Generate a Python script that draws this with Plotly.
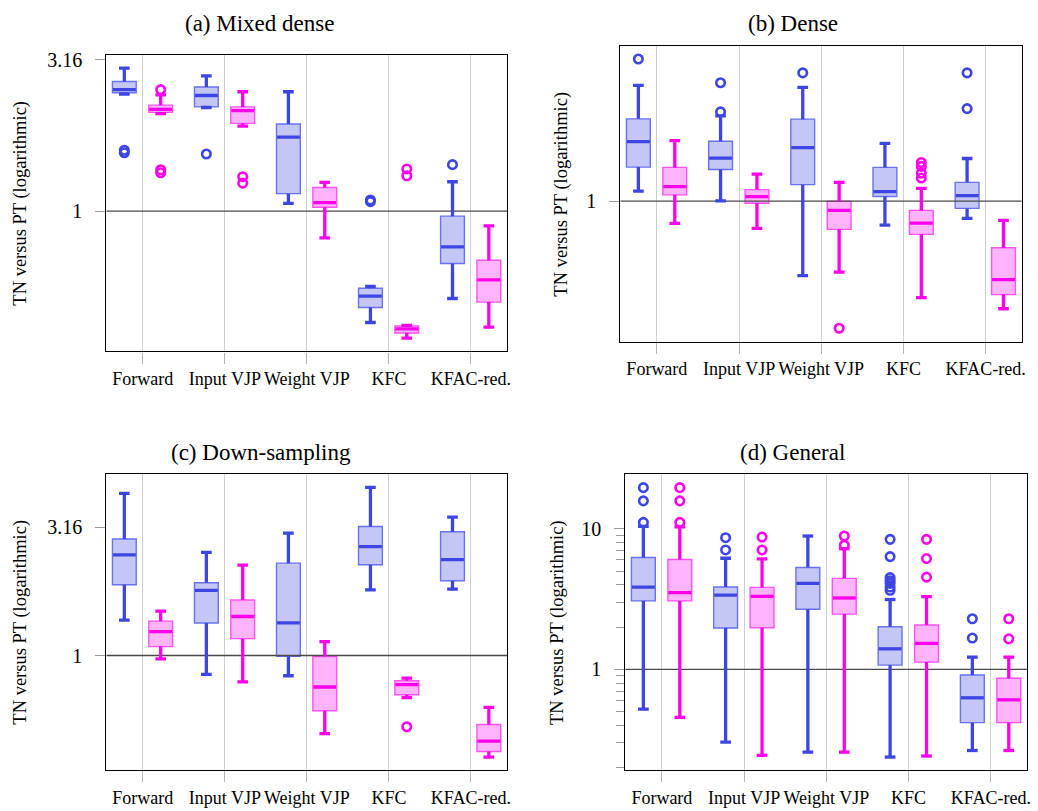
import plotly.graph_objects as go

W, H = 1038, 811

CATEGORIES = ["Forward", "Input VJP", "Weight VJP", "KFC", "KFAC-red."]

# Box statistics (lower whisker, Q1, median, Q3, upper whisker, outliers),
# one entry per category, for the two series of each panel.
MIXED_BLUE = dict(
    lo=[2.435, 2.20, 1.062, 0.429, 0.515],
    q1=[2.46, 2.21, 1.143, 0.481, 0.672],
    med=[2.52, 2.41, 1.757, 0.524, 0.762],
    q3=[2.68, 2.57, 1.94, 0.557, 0.963],
    hi=[2.97, 2.80, 2.48, 0.565, 1.251],
    out=[[1.59, 1.56], [1.545], [], [1.089, 1.076], [1.425]],
)
MIXED_PINK = dict(
    lo=[2.10, 1.91, 0.816, 0.381, 0.414],
    q1=[2.12, 1.95, 1.031, 0.396, 0.501],
    med=[2.17, 2.15, 1.067, 0.409, 0.593],
    q3=[2.24, 2.21, 1.198, 0.418, 0.689],
    hi=[2.42, 2.48, 1.245, 0.420, 0.895],
    out=[[2.52, 1.37, 1.34], [1.30, 1.238], [], [1.379, 1.309], []],
)

DENSE_BLUE = dict(
    lo=[1.072, 1.002, 0.596, 0.847, 0.887],
    q1=[1.268, 1.247, 1.122, 1.033, 0.951],
    med=[1.514, 1.349, 1.452, 1.069, 1.04],
    q3=[1.774, 1.517, 1.770, 1.265, 1.14],
    hi=[2.239, 1.811, 2.208, 1.496, 1.346],
    out=[[2.69], [2.28, 1.862], [2.443], [], [2.443, 1.905]],
)
DENSE_PINK = dict(
    lo=[0.857, 0.828, 0.610, 0.511, 0.473],
    q1=[1.045, 0.986, 0.822, 0.794, 0.522],
    med=[1.107, 1.033, 0.938, 0.859, 0.579],
    q3=[1.265, 1.084, 1.0, 0.938, 0.723],
    hi=[1.524, 1.208, 1.14, 1.094, 0.875],
    out=[[], [], [0.413], [1.309, 1.274, 1.216, 1.175], []],
)

DOWN_BLUE = dict(
    lo=[1.374, 0.844, 0.834, 1.80, 1.815],
    q1=[1.887, 1.338, 0.994, 2.255, 1.956],
    med=[2.465, 1.794, 1.341, 2.655, 2.364],
    q3=[2.842, 1.921, 2.289, 3.181, 3.034],
    hi=[4.28, 2.523, 2.998, 4.514, 3.457],
    out=[[], [], [], [], []],
)
DOWN_PINK = dict(
    lo=[0.971, 0.789, 0.496, 0.686, 0.402],
    q1=[1.083, 1.163, 0.609, 0.703, 0.423],
    med=[1.238, 1.419, 0.754, 0.770, 0.464],
    q3=[1.361, 1.646, 0.991, 0.798, 0.539],
    hi=[1.488, 2.248, 1.133, 0.817, 0.628],
    out=[[], [], [], [0.528], []],
)

GENERAL_BLUE = dict(
    lo=[0.522, 0.304, 0.258, 0.238, 0.265],
    q1=[3.07, 1.97, 2.68, 1.073, 0.418],
    med=[3.85, 3.37, 4.09, 1.40, 0.628],
    q3=[6.24, 3.85, 5.31, 2.01, 0.912],
    hi=[10.4, 6.17, 8.88, 3.14, 1.222],
    out=[[19.6, 15.8, 11.1], [8.64, 7.07], [],
         [8.41, 6.34, 4.49, 4.27, 4.09, 3.85, 3.65], [2.29, 1.67]],
)
GENERAL_PINK = dict(
    lo=[0.456, 0.245, 0.258, 0.242, 0.265],
    q1=[3.07, 1.98, 2.47, 1.127, 0.418],
    med=[3.52, 3.31, 3.22, 1.53, 0.608],
    q3=[6.04, 3.83, 4.44, 2.07, 0.864],
    hi=[10.3, 6.11, 7.22, 3.29, 1.222],
    out=[[19.6, 15.8, 11.1], [8.73, 7.07], [8.88, 7.63], [8.41, 6.14, 4.53], [2.29, 1.65]],
)

FONT = "Liberation Serif"

BLUE = dict(dark="#3d46e3", edge="#6a72ee", fill="#c4c7f5", offset=-0.225)
PINK = dict(dark="#ff00ea", edge="#ff52f0", fill="#ffb4fb", offset=0.218)

BOX_W = 0.29
CAP_W = 0.13

# Panel layout in pixels: plot-area box (left, top, right, bottom), title centre, y-title centre
PANELS = [
    dict(title="(a) Mixed dense", blue=MIXED_BLUE, pink=MIXED_PINK,
         yrange=[-0.463, 0.516], tickvals=[1, 3.16], ticktext=["1", "3.16"], minor=None,
         box=(106.7, 49.3, 509.0, 348.0), title_xy=(261, 18), ytitle_xy=(20.5, 198.7)),
    dict(title="(b) Dense", blue=DENSE_BLUE, pink=DENSE_PINK,
         yrange=[-0.425, 0.47], tickvals=[1], ticktext=["1"], minor=None,
         box=(622.7, 40.0, 1025.7, 338.3), title_xy=(796, 18), ytitle_xy=(564, 189.2)),
    dict(title="(c) Down-sampling", blue=DOWN_BLUE, pink=DOWN_PINK,
         yrange=[-0.447, 0.706], tickvals=[1, 3.16], ticktext=["1", "3.16"], minor=None,
         box=(106.7, 471.7, 509.0, 770.0), title_xy=(262.5, 450), ytitle_xy=(20.5, 620.8)),
    dict(title="(d) General", blue=GENERAL_BLUE, pink=GENERAL_PINK,
         yrange=[-0.7176, 1.388], tickvals=[1, 10], ticktext=["1", "10"],
         minor=[0.2, 0.3, 0.4, 0.5, 0.6, 0.7, 0.8, 0.9, 2, 3, 4, 5, 6, 7, 8, 9],
         box=(627.7, 471.7, 1031.0, 770.0), title_xy=(796, 450), ytitle_xy=(559, 620.8)),
]

XRANGE = [-0.445, 4.44]

fig = go.Figure()
annotations = []

for i, p in enumerate(PANELS):
    n = i + 1
    xa, ya = f"x{n}", f"y{n}"
    xname = "xaxis" if n == 1 else f"xaxis{n}"
    yname = "yaxis" if n == 1 else f"yaxis{n}"
    left, top, right, bottom = p["box"]

    # reference line at a ratio of 1
    fig.add_trace(go.Scatter(
        x=XRANGE, y=[1, 1], mode="lines", xaxis=xa, yaxis=ya,
        line=dict(color="#4a4a4a", width=1.3), showlegend=False, hoverinfo="skip"))

    for style, stats in ((BLUE, p["blue"]), (PINK, p["pink"])):
        xs = [c + style["offset"] for c in range(len(CATEGORIES))]
        fig.add_trace(go.Box(
            x=xs, q1=stats["q1"], median=stats["med"], q3=stats["q3"],
            lowerfence=stats["lo"], upperfence=stats["hi"],
            width=BOX_W, whiskerwidth=0, boxpoints=False,
            fillcolor=style["fill"], line=dict(color=style["edge"], width=1.4),
            xaxis=xa, yaxis=ya, showlegend=False, hoverinfo="skip"))

        # thick whiskers, caps and medians
        lx, ly = [], []
        for x, lo, q1, med, q3, hi in zip(xs, stats["lo"], stats["q1"], stats["med"],
                                          stats["q3"], stats["hi"]):
            lx += [x, x, None, x, x, None]
            ly += [q3, hi, None, q1, lo, None]
            lx += [x - CAP_W / 2, x + CAP_W / 2, None, x - CAP_W / 2, x + CAP_W / 2, None]
            ly += [hi, hi, None, lo, lo, None]
            lx += [x - BOX_W / 2 + 0.006, x + BOX_W / 2 - 0.006, None]
            ly += [med, med, None]
        fig.add_trace(go.Scatter(
            x=lx, y=ly, mode="lines", xaxis=xa, yaxis=ya,
            line=dict(color=style["dark"], width=3.3), showlegend=False, hoverinfo="skip"))

        ox, oy = [], []
        for x, outs in zip(xs, stats["out"]):
            for v in outs:
                ox.append(x)
                oy.append(v)
        if ox:
            fig.add_trace(go.Scatter(
                x=ox, y=oy, mode="markers", xaxis=xa, yaxis=ya,
                marker=dict(symbol="circle-open", size=8.5, color=style["dark"],
                            line=dict(width=2.6, color=style["dark"])),
                showlegend=False, hoverinfo="skip"))

    xdom = [left / W, right / W]
    ydom = [1 - bottom / H, 1 - top / H]

    fig.layout[xname] = dict(
        domain=xdom, anchor=ya, range=XRANGE, tickmode="array",
        tickvals=list(range(len(CATEGORIES))), ticktext=CATEGORIES, tickangle=0,
        showgrid=True, gridcolor="#cfcfcf", gridwidth=1.2,
        ticks="outside", ticklen=11, tickcolor="#b5b5b5", tickwidth=1.2,
        showline=True, mirror=True, linecolor="black", linewidth=1.2,
        zeroline=False, ticklabelstandoff=0,
        tickfont=dict(family=FONT, size=18, color="black"),
    )
    yax = dict(
        domain=ydom, anchor=xa, type="log", range=p["yrange"], tickmode="array",
        tickvals=p["tickvals"], ticktext=p["ticktext"], showgrid=False,
        ticks="outside", ticklen=10, tickcolor="#9a9a9a", tickwidth=1.2,
        showline=True, mirror=True, linecolor="black", linewidth=1.2,
        zeroline=False, ticklabelstandoff=9,
        tickfont=dict(family=FONT, size=20, color="black"),
    )
    if p["minor"]:
        yax["minor"] = dict(tickmode="array", tickvals=p["minor"], ticks="outside",
                            ticklen=8, tickcolor="#9a9a9a", tickwidth=1.2, showgrid=False)
    fig.layout[yname] = yax

    tx, ty = p["title_xy"]
    annotations.append(dict(
        text=p["title"], x=tx / W, y=1 - ty / H, xref="paper", yref="paper",
        xanchor="center", yanchor="middle", showarrow=False,
        font=dict(family=FONT, size=23, color="black")))
    yx, yy = p["ytitle_xy"]
    annotations.append(dict(
        text="TN versus PT (logarithmic)", x=yx / W, y=1 - yy / H, xref="paper", yref="paper",
        xanchor="center", yanchor="middle", textangle=-90, showarrow=False,
        font=dict(family=FONT, size=18.5, color="black")))

fig.update_layout(
    width=W, height=H, margin=dict(l=0, r=0, t=0, b=0),
    paper_bgcolor="white", plot_bgcolor="white",
    boxmode="overlay", annotations=annotations, showlegend=False,
    font=dict(family=FONT),
)

fig.write_html("out.html")
